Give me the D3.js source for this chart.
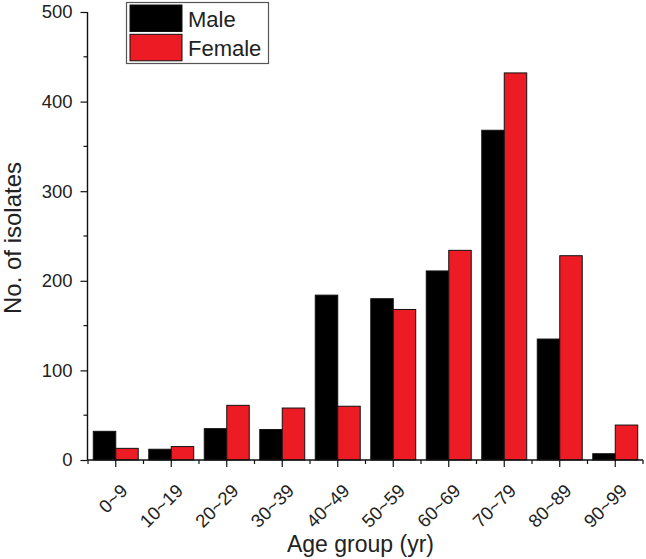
<!DOCTYPE html>
<html>
<head>
<meta charset="utf-8">
<script src="https://cdn.jsdelivr.net/npm/d3@7"></script>
<style>
  html, body { margin: 0; padding: 0; background: #fff; }
  svg { display: block; font-family: "Liberation Sans", Arial, sans-serif; }
</style>
</head>
<body>
<svg id="chart" width="646" height="559"></svg>
<script>
const categories = ["0~9", "10~19", "20~29", "30~39", "40~49", "50~59", "60~69", "70~79", "80~89", "90~99"];
const male   = [32, 12, 35, 34, 184, 180, 211, 368, 135, 7];
const female = [13, 15, 61, 58, 60, 168, 234, 432, 228, 39];
const seriesNames = ["Male", "Female"];
const seriesColors = ["#000000", "#ED1C24"];
const yTicks = [0, 100, 200, 300, 400, 500];
const yMinorTicks = [50, 150, 250, 350, 450];

const svg = d3.select("#chart");
const textColor = "#222";
const x0 = 87.5, x1 = 643, yBase = 460, yTop = 12;

const x = d3.scaleBand().domain(categories).range([x0 + 0.5, x1]).paddingInner(0.19).paddingOuter(0.095);
const xs = d3.scaleBand().domain(seriesNames).range([0, x.bandwidth()]);
const y = d3.scaleLinear().domain([0, 500]).range([yBase, yTop]);

const data = categories.map((c, i) => ({ cat: c, vals: [male[i], female[i]] }));

// bars
const g = svg.append("g");
g.selectAll("g.grp").data(data).join("g")
  .attr("class", "grp")
  .attr("transform", d => `translate(${x(d.cat)},0)`)
  .selectAll("rect").data(d => d.vals.map((v, j) => ({ v, j })))
  .join("rect")
  .attr("x", d => xs(seriesNames[d.j]))
  .attr("width", xs.bandwidth())
  .attr("y", d => y(d.v))
  .attr("height", d => y(0) - y(d.v))
  .attr("fill", d => seriesColors[d.j])
  .attr("stroke", "#111")
  .attr("stroke-width", 1);

// y axis
const yAxis = d3.axisLeft(y).tickValues(yTicks).tickSize(7).tickPadding(8);
const ya = svg.append("g").attr("transform", `translate(${x0},0)`).call(yAxis);
ya.select(".domain").attr("d", `M0,${yTop}V${yBase}`).attr("stroke", "#111").attr("stroke-width", 1.4);
ya.selectAll(".tick line").attr("stroke", "#111").attr("stroke-width", 1.2);
ya.selectAll(".tick text").attr("font-size", "18.5px").attr("fill", textColor)
  .attr("font-family", "'Liberation Sans', Arial, sans-serif");
ya.selectAll("line.minor").data(yMinorTicks).join("line")
  .attr("class", "minor")
  .attr("x1", -4).attr("x2", 0)
  .attr("y1", d => y(d)).attr("y2", d => y(d))
  .attr("stroke", "#111").attr("stroke-width", 1.2);

// x axis
const xa = svg.append("g").attr("transform", `translate(0,${yBase})`);
xa.append("line").attr("x1", x0).attr("x2", x1).attr("y1", 0).attr("y2", 0)
  .attr("stroke", "#111").attr("stroke-width", 1.4);
const step = x.step();
xa.selectAll("line.major").data(categories).join("line")
  .attr("class", "major")
  .attr("x1", d => x(d) + x.bandwidth() / 2).attr("x2", d => x(d) + x.bandwidth() / 2)
  .attr("y1", 0).attr("y2", 7)
  .attr("stroke", "#111").attr("stroke-width", 1.2);
xa.selectAll("line.minor").data(d3.range(categories.length + 1)).join("line")
  .attr("class", "minor")
  .attr("x1", i => x0 + 0.5 + i * step).attr("x2", i => x0 + 0.5 + i * step)
  .attr("y1", 0).attr("y2", 4)
  .attr("stroke", "#111").attr("stroke-width", 1.2);
xa.selectAll("text.tl").data(categories).join("text")
  .attr("class", "tl")
  .attr("text-anchor", "end")
  .attr("font-size", "18.5px")
  .attr("fill", textColor)
  .attr("transform", d => `translate(${x(d) + x.bandwidth() / 2 + 13},${32}) rotate(-45)`)
  .text(d => d);

// axis titles
svg.append("text")
  .attr("text-anchor", "middle")
  .attr("font-size", "24px")
  .attr("fill", textColor)
  .attr("transform", `translate(20.5,238) rotate(-90)`)
  .text("No. of isolates");
svg.append("text")
  .attr("text-anchor", "middle")
  .attr("font-size", "23px")
  .attr("fill", textColor)
  .attr("x", 360.5).attr("y", 551.5)
  .text("Age group (yr)");

// legend
const lg = svg.append("g");
lg.append("rect").attr("x", 126.5).attr("y", 2.5).attr("width", 142).attr("height", 61)
  .attr("fill", "#fff").attr("stroke", "#555").attr("stroke-width", 1.2);
const ly = [5, 34.3];
seriesNames.forEach((s, i) => {
  lg.append("rect").attr("x", 130).attr("y", ly[i]).attr("width", 52).attr("height", 26.5)
    .attr("fill", seriesColors[i]).attr("stroke", "#111").attr("stroke-width", 1);
  lg.append("text").attr("x", 188).attr("y", ly[i] + 21.8)
    .attr("font-size", "22px").attr("fill", textColor).text(s);
});
</script>
</body>
</html>
